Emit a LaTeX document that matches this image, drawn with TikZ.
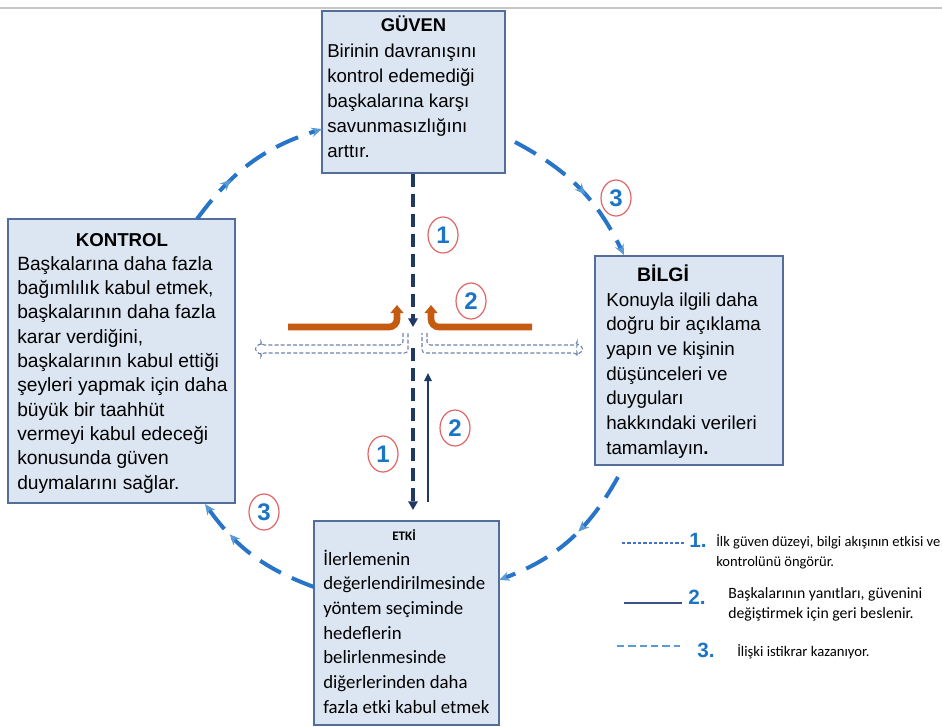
\documentclass[tikz,border=0pt]{standalone}
\usepackage{fontspec}
\setmainfont{Liberation Sans}
\newfontfamily\calib{Carlito}
\usetikzlibrary{arrows.meta,decorations.markings,shapes.geometric,fit}
\definecolor{boxfill}{RGB}{220,230,242}
\definecolor{boxline}{RGB}{84,110,156}
\definecolor{arcblue}{RGB}{40,116,200}
\definecolor{arrowblue}{RGB}{91,155,213}
\definecolor{navy}{RGB}{31,56,100}
\definecolor{orng}{RGB}{197,90,17}
\definecolor{hollow}{RGB}{110,130,170}
\definecolor{ringred}{RGB}{224,102,102}
\definecolor{numblue}{RGB}{28,117,196}
\definecolor{legnavy}{RGB}{60,80,130}
\definecolor{legblue}{RGB}{68,114,196}
\begin{document}
\begin{tikzpicture}[x=0.75pt,y=-0.75pt,
  boxstyle/.style={draw=boxline, line width=1.1pt, fill=boxfill, rectangle, inner sep=0pt},
  bodytext/.style={anchor=base west, inner sep=0pt, align=left},
  titletext/.style={anchor=base, inner sep=0pt, font=\bfseries},
  arcstyle/.style={draw=arcblue, line width=3pt, dash pattern=on 18pt off 9pt,
    -{Stealth[length=8pt,width=7pt,color=arrowblue]}},
  midarrow/.style={postaction={decorate}, decoration={markings,
    mark=at position #1 with {\arrow{Stealth[length=8pt,width=7pt,color=arrowblue]}}}},
  ring/.style={ellipse, draw=ringred, line width=0.9pt, minimum width=22.5pt, minimum height=27pt,
    inner sep=0pt, text=numblue, font=\bfseries\fontsize{18}{18}\selectfont},
  navydash/.style={draw=navy, line width=2.5pt, dash pattern=on 9.75pt off 5.25pt,
    -{Triangle[length=6.5pt,width=7pt]}},
  navysolid/.style={draw=navy, line width=1.4pt, -{Triangle[length=6pt,width=5.5pt]}},
  orangearrow/.style={draw=orng, line width=5pt, rounded corners=6pt, -{Triangle[length=6pt,width=9.5pt]}},
  hollowline/.style={draw=hollow, line width=0.8pt, dash pattern=on 3pt off 1.6pt, rounded corners=2.5pt},
  legnum/.style={anchor=base west, inner sep=0pt, text=numblue, font=\bfseries\fontsize{15.5}{15.5}\selectfont},
  legtext/.style={anchor=base west, inner sep=0pt, align=left}
]
\useasboundingbox (0,0) rectangle (942,726);
\draw[black!22, line width=0.8pt] (0,8) -- (942,8);

% boxes
\node[boxstyle, fit={(322,11)(505,173)}] (guven) {};
\node[boxstyle, fit={(8,219)(235,503)}] (kontrol) {};
\node[boxstyle, fit={(595,256)(783,465)}] (bilgi) {};
\node[boxstyle, fit={(314,521)(499,725)}] (etki) {};

% texts (anchored at the baseline of the last line)
\node[titletext, font=\bfseries\fontsize{13.8}{16}\selectfont] (guvent) at (413.5,31) {GÜVEN};
\node[bodytext, font=\fontsize{14}{18.75}\selectfont] (guvenb) at (327,157) {Birinin davranışını\\kontrol edemediği\\başkalarına karşı\\savunmasızlığını\\arttır.};

\node[titletext, font=\bfseries\fontsize{14}{16}\selectfont] (kontrolt) at (122,246) {KONTROL};
\node[bodytext, font=\fontsize{14.4}{18.25}\selectfont] (kontrolb) at (17,489) {Başkalarına daha fazla\\bağımlılık kabul etmek,\\başkalarının daha fazla\\karar verdiğini,\\başkalarının kabul ettiği\\şeyleri yapmak için daha\\büyük bir taahhüt\\vermeyi kabul edeceği\\konusunda güven\\duymalarını sağlar.};

\node[titletext, font=\bfseries\fontsize{14.6}{16}\selectfont] (bilgit) at (663,281) {BİLGİ};
\node[bodytext, font=\fontsize{14.1}{18.5}\selectfont] (bilgib) at (606,454) {Konuyla ilgili daha\\doğru bir açıklama\\yapın ve kişinin\\düşünceleri ve\\duyguları\\hakkındaki verileri\\tamamlayın\textbf{.}};

\node[titletext, font=\calib\bfseries\fontsize{9.8}{12}\selectfont] (etkit) at (404,540) {ETKİ};
\node[bodytext, font=\calib\fontsize{14.1}{18.5}\selectfont] (etkib) at (323,713) {İlerlemenin\\değerlendirilmesinde\\yöntem seçiminde\\hedeflerin\\belirlenmesinde\\diğerlerinden daha\\fazla etki kabul etmek};

% circle arcs
\coordinate (a1s) at (197,219);
\coordinate (a1e) at (322,129);
\coordinate (a2s) at (515,142);
\coordinate (a2e) at (624,255);
\coordinate (a3s) at (618,477);
\coordinate (a3e) at (499,580);
\coordinate (a4s) at (314,587);
\coordinate (a4e) at (205,504);
\draw[arcstyle, midarrow=0.33] (a1s) to[bend left=18] (a1e);
\draw[arcstyle, midarrow=0.55] (a2s) to[bend left=18] (a2e);
\draw[arcstyle, midarrow=0.42] (a3s) to[bend left=20] (a3e);
\draw[arcstyle, midarrow=0.72] (a4s) to[bend left=17] (a4e);

% central arrows
\coordinate (d1e) at (413,327);
\coordinate (d2s) at (413,348);
\coordinate (d2e) at (413,510);
\draw[navydash] (guven.south -| d1e) -- (d1e);
\draw[navydash] (d2s) -- (d2e);
\coordinate (s1s) at (428,502);
\coordinate (s1e) at (428,373);
\draw[navysolid] (s1s) -- (s1e);

\coordinate (oLs) at (288,327);
\coordinate (oLe) at (397,305);
\coordinate (oRs) at (532,327);
\coordinate (oRe) at (431,305);
\draw[orangearrow] (oLs) -- (oLe |- oLs) -- (oLe);
\draw[orangearrow] (oRs) -- (oRe |- oRs) -- (oRe);

% hollow dashed arrows
\draw[hollowline] (403,333) -- (403,345) -- (261,345) -- (261,342.5) -- (254,349) -- (261,355.5) -- (261,353) -- (408,353) -- (408,333);
\draw[hollowline] (427,333) -- (427,345) -- (577,345) -- (577,342.5) -- (584,349) -- (577,355.5) -- (577,353) -- (422,353) -- (422,333);

% ringed numbers
\node[ring] (r1a) at (443,235) {1};
\node[ring] (r2a) at (471,301) {2};
\node[ring] (r3a) at (616,198) {3};
\node[ring] (r2b) at (455,428) {2};
\node[ring] (r1b) at (383,454) {1};
\node[ring] (r3b) at (264,512) {3};

% legend
\coordinate (l1s) at (622,543);
\coordinate (l1e) at (686,543);
\coordinate (l2s) at (624,603);
\coordinate (l2e) at (682,603);
\coordinate (l3s) at (617,646);
\coordinate (l3e) at (680,646);
\draw[legblue, line width=1pt, dash pattern=on 2.5pt off 1.5pt] (l1s) -- (l1e);
\draw[legnavy, line width=1.4pt] (l2s) -- (l2e);
\draw[arrowblue, line width=1.1pt, dash pattern=on 5.5pt off 3pt] (l3s) -- (l3e);
\node[legnum] (n1) at (689,547) {1.};
\node[legnum] (n2) at (688,604) {2.};
\node[legnum] (n3) at (697,657) {3.};
\node[legtext, font=\calib\fontsize{10.9}{15}\selectfont] (t1) at (716,566) {İlk güven düzeyi, bilgi akışının etkisi ve\\kontrolünü öngörür.};
\node[legtext, font=\calib\fontsize{11.8}{15}\selectfont] (t2) at (728,618) {Başkalarının yanıtları, güvenini\\değiştirmek için geri beslenir.};
\node[legtext, font=\calib\fontsize{11}{15}\selectfont] (t3) at (737,656) {İlişki istikrar kazanıyor.};
\end{tikzpicture}
\end{document}
